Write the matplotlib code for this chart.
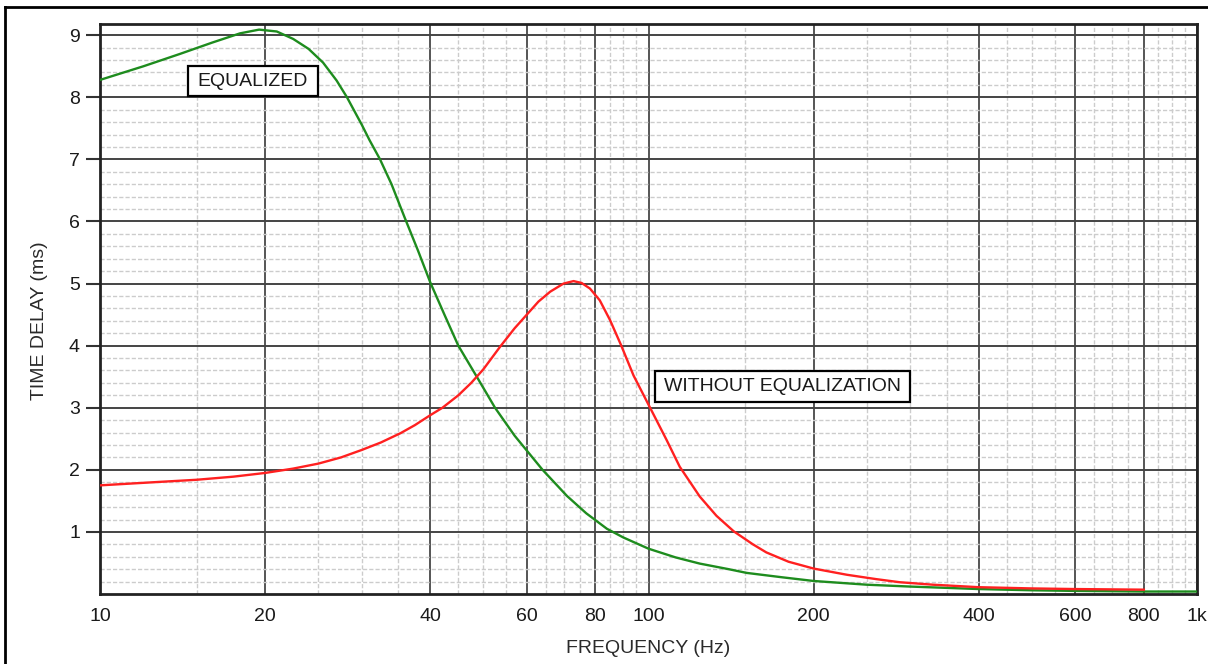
import numpy as np
import matplotlib.pyplot as plt
from matplotlib.lines import Line2D
from matplotlib.patches import Rectangle
from matplotlib.ticker import FixedLocator, NullFormatter

plt.rcParams['font.family'] = ['Liberation Sans', 'DejaVu Sans']

# equalized response (green)
freq_eq = [10, 12, 14, 16, 18, 19.5, 21, 22.5, 24, 25.5, 27, 28.2, 30, 31, 32.4, 34,
           35.9, 38, 40, 42.5, 45, 48.7, 52.5, 57, 64.1, 71, 77, 84, 90, 100,
           112, 124, 140, 151, 175, 200, 250, 300, 400, 500, 600, 800, 1000]
delay_eq = [8.28, 8.50, 8.70, 8.88, 9.03, 9.09, 9.06, 8.94, 8.78, 8.56, 8.27, 8.0, 7.56, 7.31, 7.0, 6.6,
            6.07, 5.53, 5.02, 4.49, 4.0, 3.49, 3.0, 2.55, 2.0, 1.58, 1.30, 1.05, 0.91, 0.73,
            0.59, 0.49, 0.40, 0.34, 0.27, 0.21, 0.15, 0.12, 0.08, 0.06, 0.05, 0.04, 0.04]

# without equalization (red)
freq_raw = [10, 12.5, 15, 17.5, 20, 22.5, 25, 27.5, 30, 32.5, 35.3, 37.5, 40, 42.1,
            45, 47.5, 50, 53.6, 57, 60, 63, 66.2, 70, 73, 75.5, 78.2, 81.5, 85.1,
            89.1, 93.9, 100.8, 107.9, 114, 124, 133, 143, 155, 164, 180, 200, 230,
            260, 287, 330, 400, 500, 600, 800]
delay_raw = [1.75, 1.80, 1.84, 1.89, 1.95, 2.02, 2.10, 2.20, 2.32, 2.44, 2.59, 2.72, 2.88, 3.0,
             3.20, 3.40, 3.62, 3.98, 4.28, 4.50, 4.71, 4.87, 5.0, 5.04, 5.01, 4.92, 4.73, 4.41,
             4.01, 3.52, 2.99, 2.48, 2.05, 1.57, 1.26, 1.01, 0.80, 0.67, 0.52, 0.41, 0.31,
             0.24, 0.19, 0.15, 0.11, 0.09, 0.08, 0.07]

xticks = [10, 20, 40, 60, 80, 100, 200, 400, 600, 800, 1000]
xtick_labels = ['10', '20', '40', '60', '80', '100', '200', '400', '600', '800', '1k']
x_minor = [15, 25, 30, 35, 45, 50, 55, 65, 70, 75, 85, 90, 95,
           150, 250, 300, 350, 450, 500, 550, 650, 700, 750, 850, 900, 950]
yticks = [1, 2, 3, 4, 5, 6, 7, 8, 9]
y_minor = [i / 5 for i in range(1, 46) if i % 5 != 0]

fig = plt.figure(figsize=(12.08, 6.64), dpi=100)
ax = fig.add_axes([0.0828, 0.1054, 0.9081, 0.8584])

ax.set_xscale('log')
ax.set_xlim(10, 1000)
ax.set_ylim(0, 9.18)

ax.xaxis.set_major_locator(FixedLocator(xticks))
ax.xaxis.set_minor_locator(FixedLocator(x_minor))
ax.xaxis.set_minor_formatter(NullFormatter())
ax.set_xticklabels(xtick_labels)
ax.yaxis.set_major_locator(FixedLocator(yticks))
ax.yaxis.set_minor_locator(FixedLocator(y_minor))

ax.tick_params(axis='x', which='both', length=0, pad=10, labelsize=14, colors='#1a1a1a')
ax.tick_params(axis='y', which='major', length=10, width=1.5, pad=4.5, labelsize=14,
               colors='#1a1a1a', color='#333333')
ax.tick_params(axis='y', which='minor', length=0)

ax.grid(which='minor', color='#cccccc', linestyle=(0, (3, 1.5)), linewidth=1.0, zorder=0)
ax.grid(which='major', axis='x', color='#555555', linewidth=1.4, zorder=1)
ax.grid(which='major', axis='y', color='#444444', linewidth=1.4, zorder=1)
ax.set_axisbelow(True)

for s in ax.spines.values():
    s.set_linewidth(2)
    s.set_color('#222222')

ax.plot(freq_eq, delay_eq, color='#1e8c1e', linewidth=1.7, zorder=3)
ax.plot(freq_raw, delay_raw, color='#ff2020', linewidth=1.7, zorder=3)

# annotation boxes
ax.add_patch(Rectangle((0.0802, 0.8737), 0.1185, 0.0526, transform=ax.transAxes,
                       facecolor='white', edgecolor='black', linewidth=1.6, zorder=4))
ax.text(0.1395, 0.9, 'EQUALIZED', transform=ax.transAxes, ha='center', va='center',
        fontsize=14, color='#1a1a1a', zorder=5)
ax.add_patch(Rectangle((0.5059, 0.3368), 0.2325, 0.0544, transform=ax.transAxes,
                       facecolor='white', edgecolor='black', linewidth=1.6, zorder=4))
ax.text(0.6222, 0.364, 'WITHOUT EQUALIZATION', transform=ax.transAxes, ha='center',
        va='center', fontsize=14, color='#1a1a1a', zorder=5)

ax.set_xlabel('FREQUENCY (Hz)', fontsize=14, color='#2a2a2a')
ax.xaxis.set_label_coords(0.5, -0.080)
ax.set_ylabel('TIME DELAY (ms)', fontsize=14, color='#2a2a2a')
ax.yaxis.set_label_coords(-0.047, 0.48)

# outer frame (left and top only)
fig.add_artist(Line2D([5 / 1208, 5 / 1208], [0, 1 - 7 / 664], color='black', linewidth=2))
fig.add_artist(Line2D([5 / 1208, 1], [1 - 7 / 664, 1 - 7 / 664], color='black', linewidth=2))

fig.savefig('out.png', dpi=100)
